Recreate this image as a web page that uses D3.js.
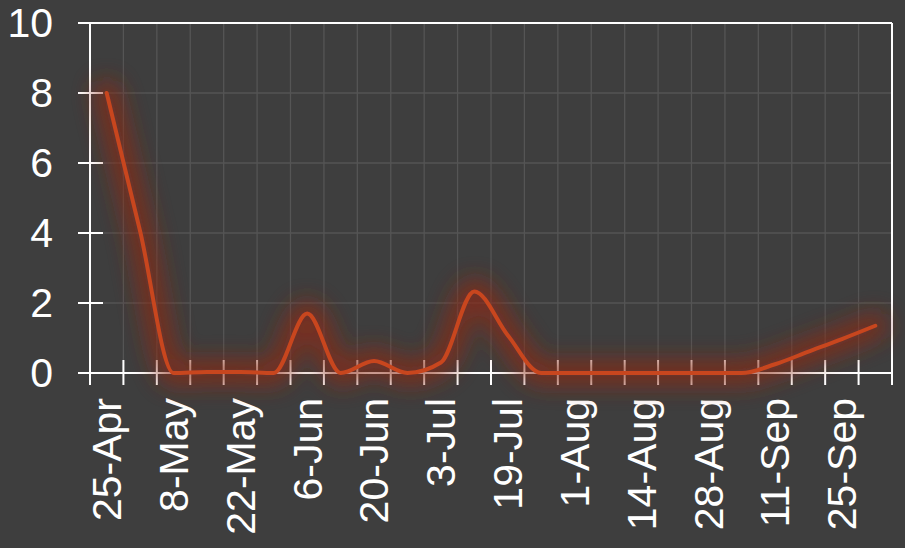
<html><head>
<title>Weekly counts</title>
<script src="https://d3js.org/d3.v7.min.js"></script>
<style>
  body { margin: 0; background: #3e3e3e; }
  svg { display: block; font-family: "Liberation Sans", Arial, sans-serif; }
  .gridlines line { stroke: #555; stroke-width: 1.3; }
  .frame line { stroke: #fff; stroke-width: 2; }
  .ticks line { stroke: #fff; stroke-width: 2; }
  .axis text { fill: #fff; font-size: 41px; }
  .axis .domain { stroke: none; }
  .line { fill: none; stroke: #c8461e; stroke-width: 4; stroke-linecap: round; }
  .glow { fill: none; stroke: #8c2c18; stroke-width: 26; opacity: 0.75; stroke-linecap: round; }
</style>
</head>
<body>
<svg id="chart" width="905" height="548"></svg>
<script>

// Data
let dates = ["25-Apr","1-May","8-May","15-May","22-May","29-May","6-Jun","13-Jun",
             "20-Jun","27-Jun","3-Jul","11-Jul","19-Jul","26-Jul","1-Aug","7-Aug",
             "14-Aug","21-Aug","28-Aug","4-Sep","11-Sep","18-Sep","25-Sep","2-Oct"];
let counts = [8, 4.05, 0, 0.03, 0.03, 0, 1.7, 0, 0.34, 0, 0.3, 2.33, 1.08, 0,
              0, 0, 0, 0, 0, 0, 0.25, 0.61, 0.97, 1.35];
let yTicks = [0, 2, 4, 6, 8, 10];
// only every other date gets a label
let dateLabels = dates.filter((d, i) => i % 2 == 0);

let data = dates.map((d, i) => ({ date: d, value: counts[i] }));

// 1. Housekeeping
let svg = d3.select("svg#chart");
let margin = { top: 23, right: 13, bottom: 175, left: 90 };
let width = +svg.attr("width");
let height = +svg.attr("height");
let chartRight = width - margin.right;
let chartBottom = height - margin.bottom;

// 2. Scales
let xScale = d3.scaleBand().domain(dates).range([margin.left, chartRight]).padding(0);
let yScale = d3.scaleLinear().domain([0, 10]).range([chartBottom, margin.top]);

// band edges, used for grid and tick marks
let edges = dates.map(d => xScale(d)).concat([chartRight]);

// 3. Gridlines
let grid = svg.append("g").attr("class", "gridlines");
grid.selectAll("line.v").data(edges.slice(1, -1)).join("line")
  .attr("class", "v")
  .attr("x1", d => d).attr("x2", d => d)
  .attr("y1", margin.top).attr("y2", chartBottom);
grid.selectAll("line.h").data(yTicks.slice(1, -1)).join("line")
  .attr("class", "h")
  .attr("x1", margin.left).attr("x2", chartRight)
  .attr("y1", d => yScale(d)).attr("y2", d => yScale(d));

// 4. Frame + tick marks (ticks cross the axis lines)
let frame = svg.append("g").attr("class", "frame");
frame.append("line").attr("x1", margin.left).attr("x2", margin.left)
  .attr("y1", margin.top).attr("y2", chartBottom + 12);
frame.append("line").attr("x1", chartRight).attr("x2", chartRight)
  .attr("y1", margin.top).attr("y2", chartBottom + 12);
frame.append("line").attr("x1", margin.left - 12).attr("x2", chartRight)
  .attr("y1", chartBottom).attr("y2", chartBottom);
frame.append("line").attr("x1", margin.left - 12).attr("x2", chartRight)
  .attr("y1", margin.top).attr("y2", margin.top);

let ticks = svg.append("g").attr("class", "ticks");
ticks.selectAll("line.x").data(edges).join("line")
  .attr("class", "x")
  .attr("x1", d => d).attr("x2", d => d)
  .attr("y1", chartBottom - 13).attr("y2", chartBottom + 12);
ticks.selectAll("line.y").data(yTicks).join("line")
  .attr("class", "y")
  .attr("x1", margin.left - 12).attr("x2", margin.left + 13)
  .attr("y1", d => yScale(d)).attr("y2", d => yScale(d));

// 5. Axis labels
let yAxis = d3.axisLeft(yScale).tickValues(yTicks).tickSize(0).tickPadding(37);
svg.append("g").attr("class", "y axis")
  .attr("transform", "translate(" + margin.left + ",0)")
  .call(yAxis);

let xAxis = d3.axisBottom(xScale).tickValues(dateLabels).tickSize(0);
let xg = svg.append("g").attr("class", "x axis")
  .attr("transform", "translate(0," + chartBottom + ")")
  .call(xAxis);
xg.selectAll("text")
  .attr("transform", "rotate(-90)")
  .attr("text-anchor", "end")
  .attr("x", -25)
  .attr("y", 0)
  .attr("dy", "0.35em");

// 6. The line with a soft glow behind it
let defs = svg.append("defs");
defs.append("filter").attr("id", "blur")
  .attr("filterUnits", "userSpaceOnUse")
  .attr("x", 0).attr("y", 0).attr("width", width).attr("height", height)
  .append("feGaussianBlur").attr("stdDeviation", 11);

let line = d3.line()
  .x(d => xScale(d.date) + xScale.bandwidth() / 2)
  .y(d => yScale(d.value))
  .curve(d3.curveMonotoneX);

svg.append("path").attr("class", "glow").datum(data)
  .attr("filter", "url(#blur)")
  .attr("d", line);
svg.append("path").attr("class", "line").datum(data)
  .attr("d", line);

</script>
</body>
</html>
